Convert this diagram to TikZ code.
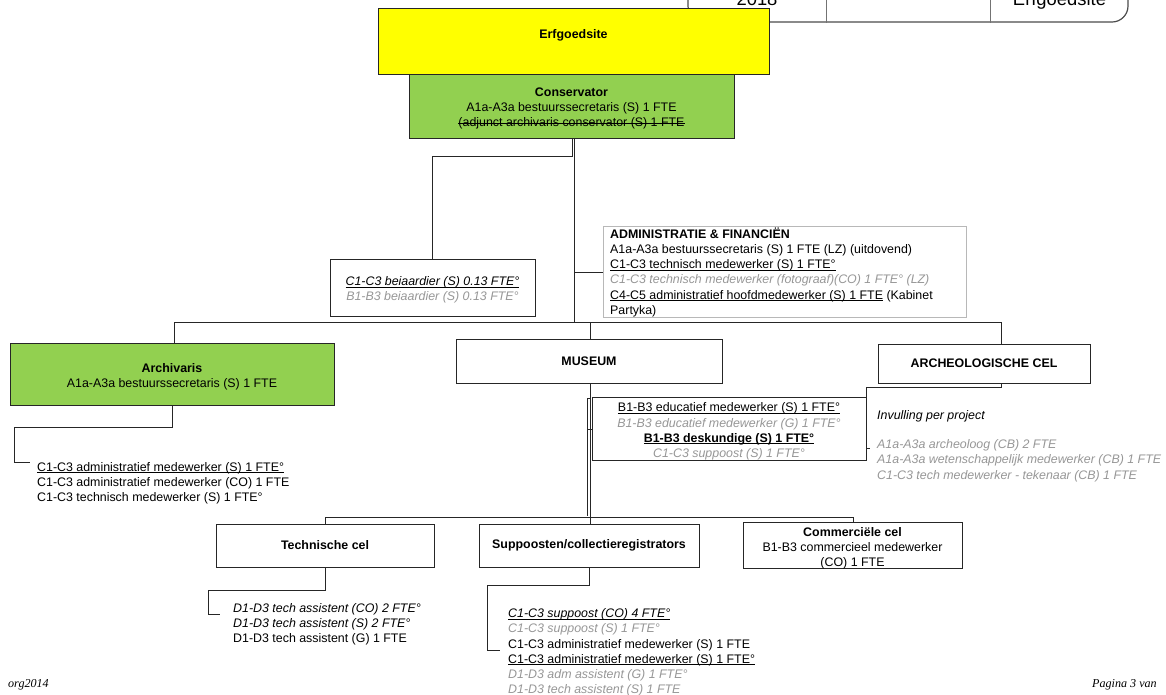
\documentclass[tikz,border=0pt]{standalone}
\usepackage{fontspec}
\setmainfont{Liberation Sans}
\newfontfamily\timesf{Liberation Serif}
\definecolor{grn}{HTML}{92D050}
\definecolor{ylw}{HTML}{FFFF00}
\definecolor{gtxt}{HTML}{979797}
\definecolor{edge}{HTML}{262626}
\newcommand\firstln{\rule{0pt}{11pt}}
\newcommand\lift{\rule{0pt}{14pt}}
\newcommand\gi[1]{\textcolor{gtxt}{\textit{#1}}}
\newcommand\uln[1]{\setbox0\hbox{#1}\leavevmode\rlap{\rule[-1.8pt]{\wd0}{0.75pt}}\box0\relax}
\newcommand\strk[1]{\setbox0\hbox{#1}\leavevmode\rlap{\rule[3.3pt]{\wd0}{0.75pt}}\box0\relax}
\begin{document}
\begin{tikzpicture}[x=1pt,y=-1pt,
  every node/.style={font=\fontsize{12.4}{15.2}\selectfont},
  box/.style={draw=edge, line width=1pt, inner sep=0pt, align=center},
  conn/.style={draw=edge, line width=1pt},
  txt/.style={inner sep=0pt, anchor=north west, align=left},
  hdrtxt/.style={font=\fontsize{18.4}{22}\selectfont, inner sep=0pt, anchor=base},
  foot/.style={font=\fontsize{12.1}{14}\selectfont\timesf\itshape, inner sep=0pt, anchor=base west}]
\useasboundingbox (0,0) rectangle (1166,694);
\fill[white] (0,0) rectangle (1166,694);

% header table
\node[draw=black!70, line width=1.2pt, rounded corners=16pt, minimum width=440pt, minimum height=70pt, inner sep=0pt] (hdr) at (908,-13) {};
\draw[black!55, line width=1pt] (hdr.north -| 826,0) -- (hdr.south -| 826,0);
\draw[black!55, line width=1pt] (hdr.north -| 990,0) -- (hdr.south -| 990,0);
\node[hdrtxt] (hdra) at (757,5.5) {2018};
\node[hdrtxt] (hdrb) at (1059.5,5.5) {Erfgoedsite};

% top boxes
\node[box, fill=ylw, minimum width=391pt, minimum height=66pt] (erf) at (573.5,41) {};
\node[inner sep=0pt] (erft) at (573.5,35) {\textbf{Erfgoedsite}};
\node[box, fill=grn, minimum width=325pt, minimum height=64pt] (cons) at (571.5,106)
  {\lift\textbf{Conservator}\\A1a-A3a bestuurssecretaris (S) 1 FTE\\\strk{(adjunct archivaris conservator (S) 1 FTE}};

% beiaardier and administratie
\node[box, minimum width=205pt, minimum height=57pt] (beia) at (432.5,287.5)
  {\lift\uln{\textit{C1-C3 beiaardier (S) 0.13 FTE°}}\\\gi{B1-B3 beiaardier (S) 0.13 FTE°}};
\node[draw=black!28, line width=1pt, inner sep=0pt, minimum width=363pt, minimum height=91pt] (adm) at (784.5,271.5) {};
\node[txt] (admt) at (610,227)
  {\firstln\textbf{ADMINISTRATIE \& FINANCIËN}\\
   A1a-A3a bestuurssecretaris (S) 1 FTE (LZ) (uitdovend)\\
   \uln{C1-C3 technisch medewerker (S) 1 FTE°}\\
   \gi{C1-C3 technisch medewerker (fotograaf)(CO) 1 FTE° (LZ)}\\
   \uln{C4-C5 administratief hoofdmedewerker (S) 1 FTE} (Kabinet\\
   Partyka)};

% second level
\node[box, fill=grn, minimum width=324pt, minimum height=62pt] (arch) at (172,374)
  {\lift\textbf{Archivaris}\\A1a-A3a bestuurssecretaris (S) 1 FTE};
\node[box, minimum width=266pt, minimum height=44pt] (mus) at (589,361) {\textbf{MUSEUM}};
\node[box, minimum width=212pt, minimum height=39pt] (arc) at (984,363.5) {\textbf{ARCHEOLOGISCHE CEL}};

\node[txt] (archt) at (37,460)
  {\firstln\uln{C1-C3 administratief medewerker (S) 1 FTE°}\\
   C1-C3 administratief medewerker (CO) 1 FTE\\
   C1-C3 technisch medewerker (S) 1 FTE°};

\node[box, minimum width=274pt, minimum height=56pt] (educ) at (729,429)
  {\lift\uln{B1-B3 educatief medewerker (S) 1 FTE°}\\
   \gi{B1-B3 educatief medewerker (G) 1 FTE°}\\
   \uln{\textbf{B1-B3 deskundige (S) 1 FTE°}}\\
   \gi{C1-C3 suppoost (S) 1 FTE°}};

\node[txt] (arct1) at (877,408.5) {\firstln\textit{Invulling per project}};
\node[txt] (arct2) at (877,437.5)
  {\firstln\gi{A1a-A3a archeoloog (CB) 2 FTE}\\
   \gi{A1a-A3a wetenschappelijk medewerker (CB) 1 FTE}\\
   \gi{C1-C3 tech medewerker - tekenaar (CB) 1 FTE}};

% third level
\node[box, minimum width=218pt, minimum height=43pt] (tech) at (325,545.5) {\textbf{Technische cel}};
\node[box, minimum width=220pt, minimum height=43pt] (supp) at (589,545.5) {\textbf{Suppoosten/collectieregistrators}};
\node[box, minimum width=219pt, minimum height=45pt] (comm) at (852.5,545.5)
  {\lift\textbf{Commerciële cel}\\B1-B3 commercieel medewerker\\(CO) 1 FTE};

\node[txt] (techt) at (233,601)
  {\firstln\textit{D1-D3 tech assistent (CO) 2 FTE°}\\
   \textit{D1-D3 tech assistent (S) 2 FTE°}\\
   D1-D3 tech assistent (G) 1 FTE};
\node[txt] (suppt) at (508,606.5)
  {\firstln\uln{\textit{C1-C3 suppoost (CO) 4 FTE°}}\\
   \gi{C1-C3 suppoost (S) 1 FTE°}\\
   C1-C3 administratief medewerker (S) 1 FTE\\
   \uln{C1-C3 administratief medewerker (S) 1 FTE°}\\
   \gi{D1-D3 adm assistent (G) 1 FTE°}\\
   \gi{D1-D3 tech assistent (S) 1 FTE}};

% footer
\node[foot] (fl) at (8,687) {org2014};
\node[foot] (fr) at (1092,687) {Pagina 3 van};

% connectors
\coordinate (bar1l) at (174,322);
\coordinate (bar1r) at (1001,322);
\draw[conn] (cons.south -| 574,0) -- (574,322);
\draw[conn] (cons.south -| 572,0) -- (572,156) -| (beia.north);
\draw[conn] (574,272) -- (adm.west |- 574,272);
\draw[conn] (bar1l) -- (bar1r);
\draw[conn] (bar1l) -- (arch.north -| bar1l);
\draw[conn] (590,322) -- (mus.north -| 590,0);
\draw[conn] (bar1r) -- (arc.north -| bar1r);

% archivaris sub
\draw[conn] (arch.south) -- (172,427) -- (14,427) -- (14,462) -- (30,462);
% archeologische sub
\draw[conn] (arc.south -| 1001,0) -- (1001,387) -- (866,387) -- (866,448) -- (870,448);
% museum
\coordinate (bar2l) at (325,517);
\coordinate (bar2r) at (853,517);
\draw[conn] (mus.south -| 590,0) -- (supp.north -| 590,0);
\draw[conn] (587,398) -- (587,516);
\draw[conn] (587,398) -- (590,398);
\draw[conn] (587,429) -- (educ.west);
\draw[conn] (bar2l) -- (bar2r);
\draw[conn] (bar2l) -- (tech.north);
\draw[conn] (bar2r) -- (comm.north -| bar2r);
% technische sub
\draw[conn] (tech.south) -- (325,590) -- (208,590) -- (208,614) -- (220,614);
% suppoosten sub
\draw[conn] (supp.south) -- (589,585) -- (487,585) -- (487,650) -- (500,650);
\end{tikzpicture}
\end{document}
